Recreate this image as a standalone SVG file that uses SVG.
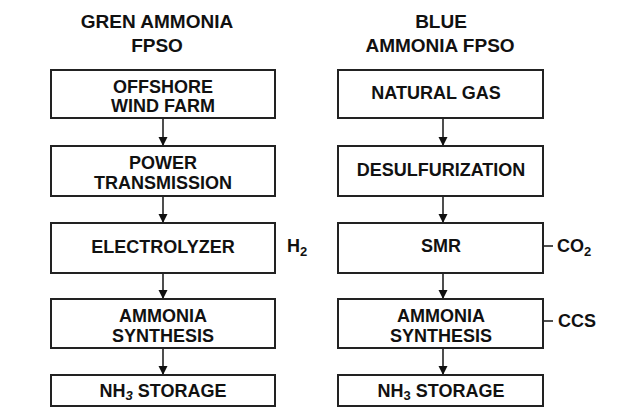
<svg xmlns="http://www.w3.org/2000/svg" width="624" height="416" viewBox="0 0 624 416">
<defs>
<style>
text{font-family:"Liberation Sans",Arial,Helvetica,sans-serif;font-weight:bold;fill:#111;text-anchor:middle}
.t{font-size:19px}
.b{font-size:18px}
.s{font-size:13px}
.l{text-anchor:start}
rect{fill:#fff;stroke:#222;stroke-width:2}
.c{stroke:#222;stroke-width:1.6;fill:none}
</style>
<marker id="ah" markerWidth="10" markerHeight="10" refX="9" refY="5" orient="auto" markerUnits="userSpaceOnUse">
<path d="M0,0.5 L9,5 L0,9.5 Z" fill="#111"/>
</marker>
</defs>
<rect x="0" y="0" width="624" height="416" style="fill:#fff;stroke:none"/>
<g id="titles">
<text class="t" x="157" y="28">GREN AMMONIA</text>
<text class="t" x="157" y="52">FPSO</text>
<text class="t" x="441" y="28">BLUE</text>
<text class="t" x="440" y="52">AMMONIA FPSO</text>
</g>
<g id="connectors">
<path class="c" d="M163,118 V146" marker-end="url(#ah)"/>
<path class="c" d="M163,196 V223" marker-end="url(#ah)"/>
<path class="c" d="M163,273 V299" marker-end="url(#ah)"/>
<path class="c" d="M163,348 V375" marker-end="url(#ah)"/>
<path class="c" d="M443,118 V146" marker-end="url(#ah)"/>
<path class="c" d="M443,196 V223" marker-end="url(#ah)"/>
<path class="c" d="M443,273 V299" marker-end="url(#ah)"/>
<path class="c" d="M443,348 V375" marker-end="url(#ah)"/>
<path class="c" d="M543,246 H553"/>
<path class="c" d="M543,321 H553"/>
</g>
<g id="offshore-wind-farm">
<rect x="51" y="70" width="224" height="48"/>
<text class="b" x="163" y="93">OFFSHORE</text>
<text class="b" x="163" y="112">WIND FARM</text>
</g>
<g id="power-transmission">
<rect x="51" y="146" width="224" height="50"/>
<text class="b" x="163" y="169">POWER</text>
<text class="b" x="163" y="189">TRANSMISSION</text>
</g>
<g id="electrolyzer">
<rect x="51" y="223" width="224" height="50"/>
<text class="b" x="163" y="253">ELECTROLYZER</text>
</g>
<g id="h2">
<text class="b l" x="287" y="252">H<tspan class="s" dy="4">2</tspan></text>
</g>
<g id="green-ammonia-synthesis">
<rect x="51" y="299" width="224" height="49"/>
<text class="b" x="163" y="322">AMMONIA</text>
<text class="b" x="163" y="342">SYNTHESIS</text>
</g>
<g id="green-nh3-storage">
<rect x="51" y="375" width="224" height="31"/>
<text class="b" x="163" y="397">NH<tspan class="s" dy="3" font-style="italic">3</tspan><tspan dy="-3"> STORAGE</tspan></text>
</g>
<g id="natural-gas">
<rect x="338" y="70" width="205" height="48"/>
<text class="b" x="436" y="99">NATURAL GAS</text>
</g>
<g id="desulfurization">
<rect x="338" y="146" width="205" height="50"/>
<text class="b" x="441" y="176">DESULFURIZATION</text>
</g>
<g id="smr">
<rect x="338" y="223" width="205" height="50"/>
<text class="b" x="441" y="252">SMR</text>
</g>
<g id="co2">
<text class="b l" x="557" y="252">CO<tspan class="s" dy="4">2</tspan></text>
</g>
<g id="blue-ammonia-synthesis">
<rect x="338" y="299" width="205" height="49"/>
<text class="b" x="441" y="322">AMMONIA</text>
<text class="b" x="441" y="342">SYNTHESIS</text>
</g>
<g id="ccs">
<text class="b l" x="558" y="327">CCS</text>
</g>
<g id="blue-nh3-storage">
<rect x="338" y="375" width="205" height="31"/>
<text class="b" x="441" y="397">NH<tspan class="s" dy="3">3</tspan><tspan dy="-3"> STORAGE</tspan></text>
</g>
</svg>
